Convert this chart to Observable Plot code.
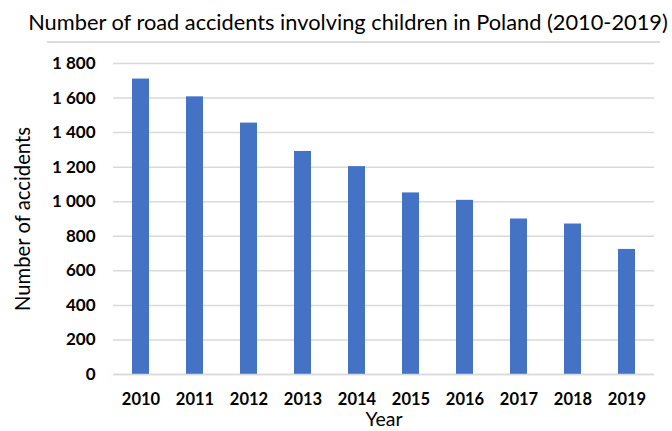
<!DOCTYPE html>
<html>
<head>
<meta charset="utf-8">
<script src="https://cdn.jsdelivr.net/npm/d3@7"></script>
<script src="https://cdn.jsdelivr.net/npm/@observablehq/plot@0.6"></script>
<style>
  html, body { margin: 0; padding: 0; background: #fff; }
  #wrap { width: 672px; height: 431px; position: relative; font-family: Lato, "Open Sans", sans-serif; }
  #title { height: 41px; line-height: 44px; text-align: center; font-size: 21.8px; color: #000; white-space: nowrap; padding-left: 24px; }
  #sep { position: absolute; left: 47px; width: 613px; top: 41px; height: 2px; background: #dcdcdc; }
  #chart { position: absolute; top: 43px; left: 0; }
</style>
</head>
<body>
<div id="wrap">
  <div id="title">Number of road accidents involving children in Poland (2010-2019)</div>
  <div id="sep"></div>
  <div id="chart"></div>
</div>
<script>
const years = ["2010","2011","2012","2013","2014","2015","2016","2017","2018","2019"];
const accidents = [1710, 1607, 1455, 1291, 1203, 1051, 1008, 900, 871, 724];
const yTicks = [0, 200, 400, 600, 800, 1000, 1200, 1400, 1600, 1800];

const data = years.map((y, i) => ({year: y, value: accidents[i]}));
const fmt = d3.formatLocale({thousands: " ", grouping: [3], decimal: ","}).format(",");

const chart = Plot.plot({
  width: 672,
  height: 388,
  marginTop: 20,
  marginBottom: 57,
  marginLeft: 113,
  marginRight: 18,
  style: {fontFamily: "Lato, 'Open Sans', sans-serif", background: "#fff", color: "#000"},
  x: {domain: years, paddingInner: 0.68, paddingOuter: 0.34, label: null},
  y: {domain: [0, 1800], ticks: yTicks, label: null},
  marks: [
    Plot.gridY(yTicks, {stroke: "#d9d9d9", strokeOpacity: 1, strokeWidth: 1.5}),
    Plot.barY(data, {x: "year", y: "value", fill: "#4472C4"}),
    Plot.ruleY([0], {stroke: "#d9d9d9", strokeWidth: 1.5}),
    Plot.axisY(yTicks, {tickSize: 0, tickPadding: 18, tickFormat: fmt, fontSize: 17, fontWeight: "bold", label: null}),
    Plot.axisX({tickSize: 0, tickPadding: 19, fontSize: 16.5, fontWeight: "bold", label: null}),
    Plot.text(["Year"], {frameAnchor: "bottom", dy: 45, fontSize: 19.5, textAnchor: "middle", lineAnchor: "middle"}),
    Plot.text(["Number of accidents"], {frameAnchor: "left", dx: -90, rotate: -90, fontSize: 20.3, textAnchor: "middle", lineAnchor: "middle"})
  ]
});
document.getElementById("chart").appendChild(chart);
</script>
</body>
</html>
